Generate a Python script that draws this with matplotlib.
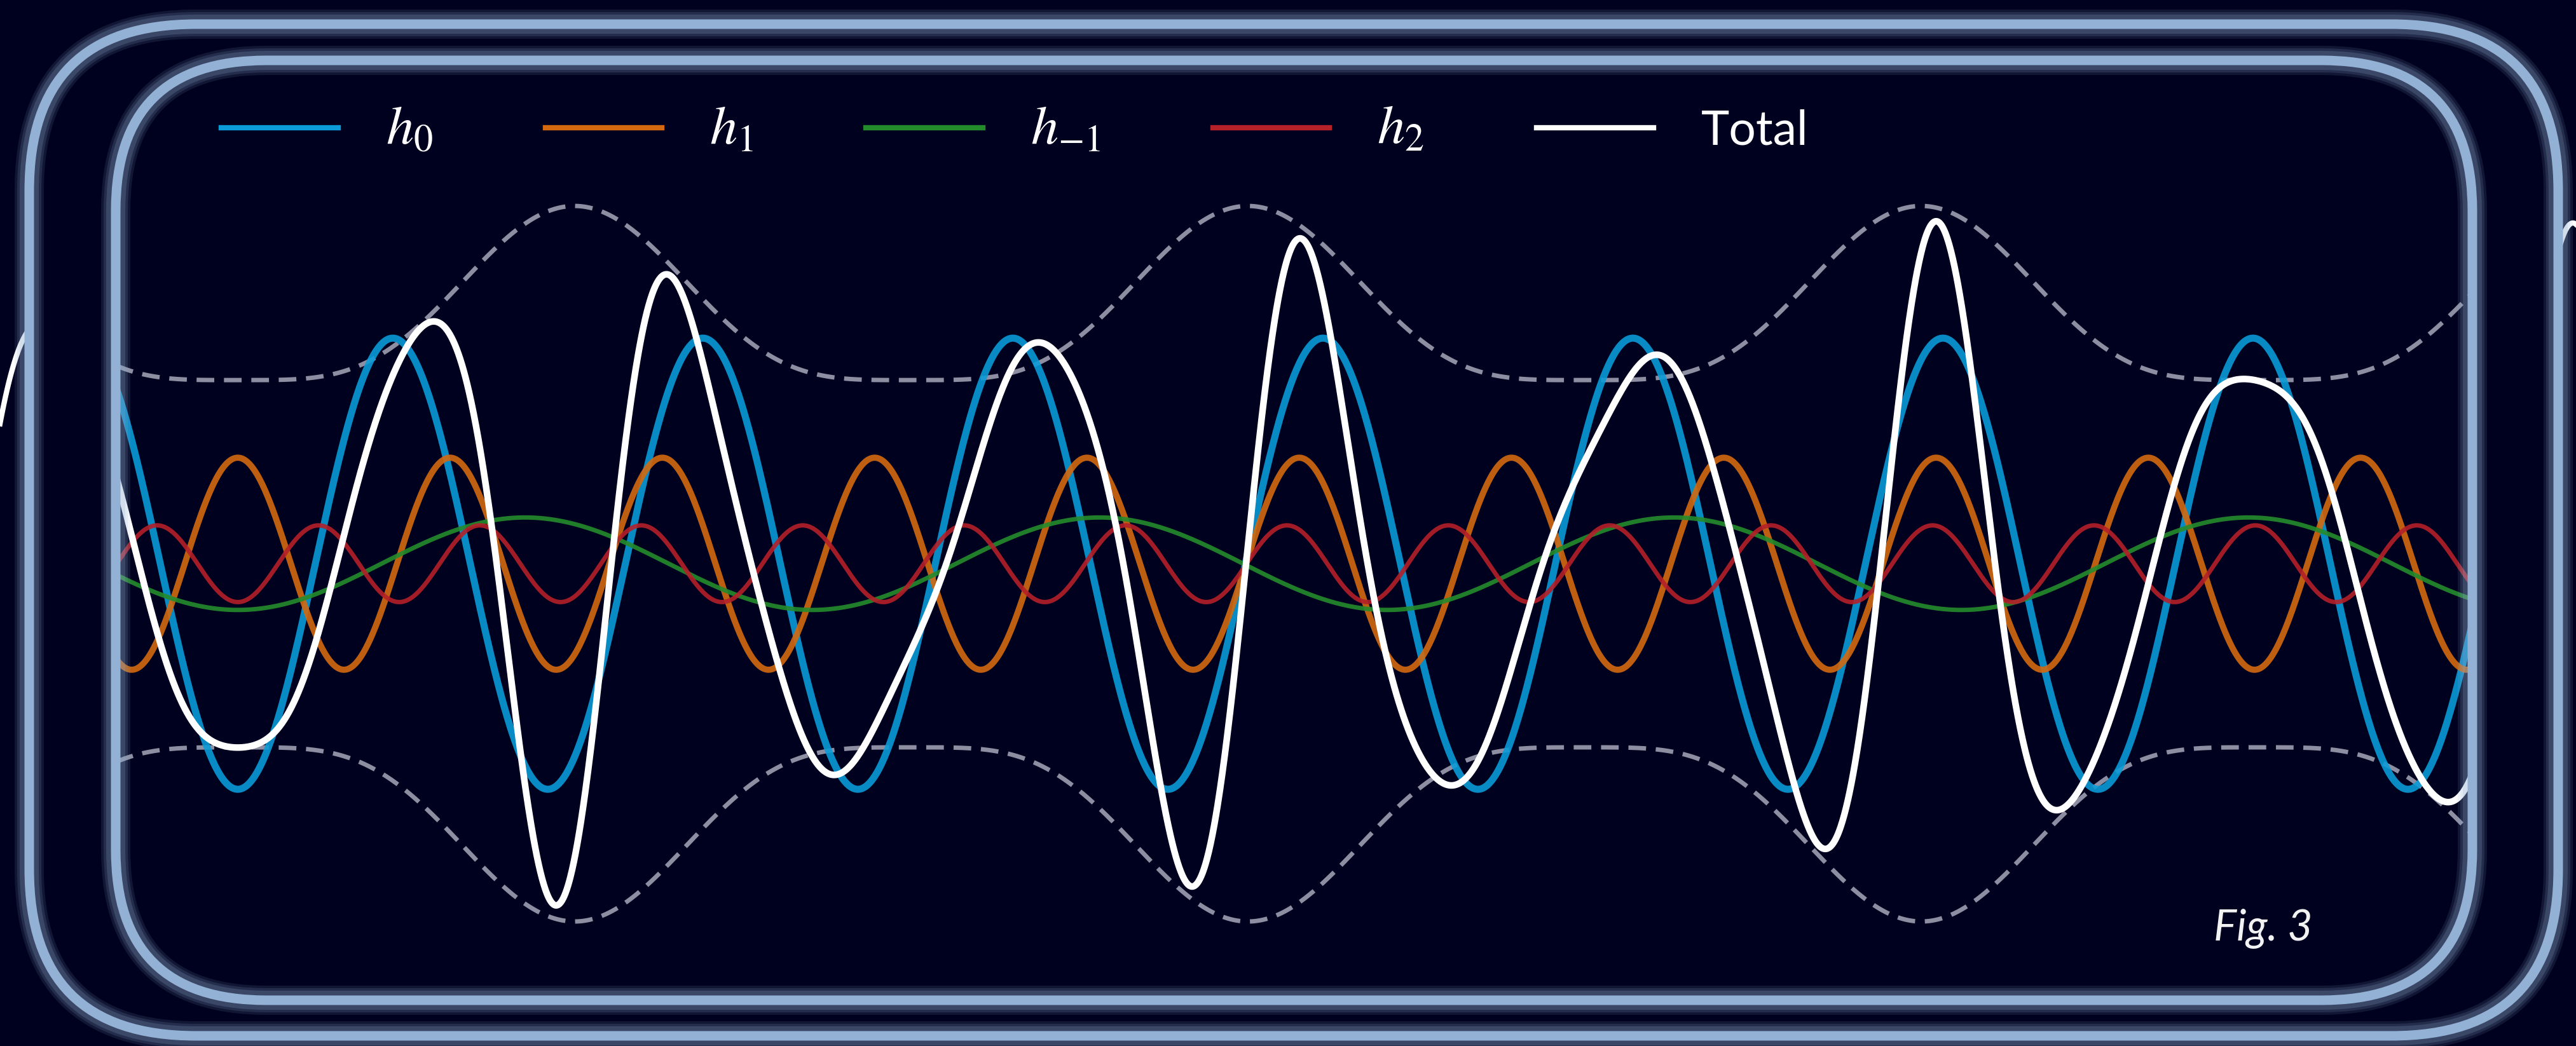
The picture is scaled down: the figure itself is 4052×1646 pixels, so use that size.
import numpy as np
import matplotlib.pyplot as plt
from matplotlib.lines import Line2D
from matplotlib.patches import FancyBboxPatch

plt.rcParams["mathtext.fontset"] = "stix"

# harmonics: amplitude relative to h0,
# x in h0 periods counted from the first h0 trough
labels = ["$h_0$", "$h_1$", "$h_{-1}$", "$h_2$"]
orders = [0, 1, -1, 2]
amplitudes = [-1.0, 0.47, -0.205, -0.17]
colors = ["#0a9bd8", "#d4690f", "#248b2c", "#b52029"]
widths = [8.0, 7.0, 5.0, 5.0]

# an order that is in the total but has no curve of its own
hidden_orders = [3]
hidden_amplitudes = [0.09]

base_freq = 1.0
order_step = 0.4604

# dashed envelope: narrowest and widest half-height, same units
env_min = 0.814
env_max = 1.586

BG = "#00011f"
FRAME = "#93b1d5"
PX = 72 / 100  # points per pixel at dpi 100


def harmonic(x, n, a):
    return a * np.cos(2 * np.pi * (base_freq + n * order_step) * x)


def total(x):
    return sum(harmonic(x, n, a) for n, a in
               zip(orders + hidden_orders, amplitudes + hidden_amplitudes))


def envelope(x):
    beat = np.sin(np.pi * order_step * x) ** 4
    return env_min + (env_max - env_min) * beat


def glow_box(ax, x, y, w, h, r):
    style = f"round,pad=0,rounding_size={r}"
    for lw, alpha in [(46, 0.12), (38, 0.15), (30, 0.2)]:
        ax.add_patch(FancyBboxPatch((x, y), w, h, boxstyle=style, fill=False,
                                    ec=FRAME, lw=lw * PX, alpha=alpha))
    ax.add_patch(FancyBboxPatch((x, y), w, h, boxstyle=style, fill=False,
                                ec=FRAME, lw=15 * PX))


def main():
    fig = plt.figure(figsize=(40.52, 16.46), dpi=100, facecolor=BG)

    ax = fig.add_axes([0, 0, 1, 1])
    ax.set_facecolor(BG)
    ax.set_xlim(-0.767, 7.542)
    ax.set_ylim(-2.138, 2.499)
    ax.axis("off")

    x = np.linspace(-0.392, 7.205, 4000)
    env = envelope(x)
    for sign in (1, -1):
        ax.plot(x, sign * env, color="#8e8ea2", lw=5, ls=(0, (4, 2.2)),
                zorder=2)

    for n, a, c, w in zip(orders, amplitudes, colors, widths):
        ax.plot(x, harmonic(x, n, a), color=c, lw=w, alpha=0.9, zorder=3)
    ax.plot(x, total(x), color="white", lw=7.5, zorder=4)

    # bits of the total that show outside the outer frame
    for lo, hi in [(-0.767, -0.67), (7.48, 7.542)]:
        xs = np.linspace(lo, hi, 100)
        ax.plot(xs, total(xs), color="white", lw=6, zorder=4)

    fa = fig.add_axes([0, 0, 1, 1], zorder=5)
    fa.set_xlim(0, 4052)
    fa.set_ylim(1646, 0)
    fa.axis("off")
    fa.patch.set_alpha(0)

    glow_box(fa, 46, 38, 3978, 1592, 262)
    glow_box(fa, 182, 95, 3707, 1479, 237)

    handles = [Line2D([], [], color=c, lw=6) for c in colors]
    handles.append(Line2D([], [], color="white", lw=6))
    leg = fa.legend(handles, labels + ["Total"], loc="center left",
                    bbox_to_anchor=(348, 203), bbox_transform=fa.transData,
                    ncol=5, frameon=False, prop={"family": "Lato", "size": 54},
                    labelcolor="white", handlelength=2.45, handletextpad=1.0,
                    columnspacing=2.36, borderpad=0, borderaxespad=0)
    for t in leg.get_texts()[:4]:
        t.set_fontsize(62)

    fa.text(3482, 1480, "Fig. 3", fontsize=49, style="italic",
            family="Lato", color="#f2f2f2", va="baseline")

    fig.savefig("out.png", dpi=100, facecolor=BG)


if __name__ == "__main__":
    main()
